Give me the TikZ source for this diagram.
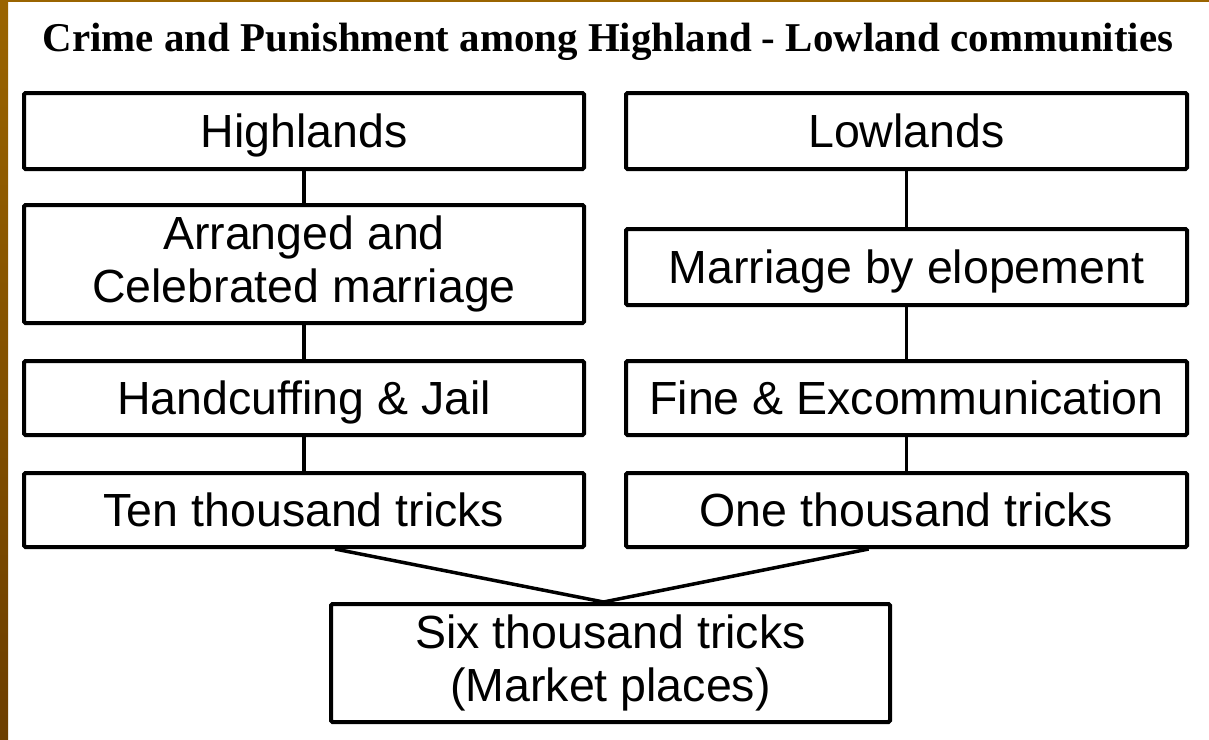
\documentclass[tikz,border=0pt]{standalone}
\usepackage{fontspec}
\setmainfont{Liberation Sans}
\newfontfamily\titlefont{Liberation Serif}
\usetikzlibrary{calc}
\definecolor{striptop}{HTML}{9A6400}
\definecolor{stripbot}{HTML}{6C3E00}
\begin{document}
\begin{tikzpicture}[x=1pt,y=-1pt,
  box/.style={draw=black,line width=4pt,rounded corners=1.5pt,inner sep=0pt,
    align=center,font=\fontsize{46.5}{53}\selectfont,fill=white},
  oneline/.style={text height=33.3pt,text depth=0pt},
  link/.style={draw=black,line width=3.5pt}]
\useasboundingbox (0,0) rectangle (1209,739);
\fill[white] (0,0) rectangle (1209,739);
\shade[top color=striptop,bottom color=stripbot] (0,0) rectangle (8,739);
\fill[striptop] (0,0) rectangle (1209,2);

\node[font=\titlefont\bfseries\fontsize{40.9}{48}\selectfont,anchor=base] (title) at (608,51)
  {Crime and Punishment among Highland - Lowland communities};

\node[box,oneline,minimum width=560pt,minimum height=76pt] (H) at (304,131) {Highlands};
\node[box,minimum width=560pt,minimum height=118pt] (A) at (304,264) {Arranged and\\Celebrated marriage};
\node[box,oneline,minimum width=560pt,minimum height=74pt] (Hc) at (304,398) {Handcuffing \& Jail};
\node[box,oneline,minimum width=560pt,minimum height=74pt] (T) at (304,510) {Ten thousand tricks};

\node[box,oneline,minimum width=561pt,minimum height=76pt] (L) at (906.5,131) {Lowlands};
\node[box,oneline,minimum width=561pt,minimum height=76pt] (M) at (906.5,267) {Marriage by elopement};
\node[box,oneline,minimum width=561pt,minimum height=74pt] (F) at (906.5,398) {Fine \& Excommunication};
\node[box,oneline,minimum width=561pt,minimum height=74pt] (O) at (906.5,510) {One thousand tricks};

\node[box,minimum width=559pt,minimum height=118pt] (S) at (610.5,663) {Six thousand tricks\\(Market places)};

\draw[link] (H) -- (A);
\draw[link] (A) -- (Hc);
\draw[link] (Hc) -- (T);
\draw[link] (L) -- (M);
\draw[link] (M) -- (F);
\draw[link] (F) -- (O);

\coordinate (tl) at ($(T.south west)!0.555!(T.south east)$);
\coordinate (or) at ($(O.south west)!0.433!(O.south east)$);
\coordinate (sm) at ([xshift=-7pt]S.north);
\draw[link] (tl) -- (sm) -- (or);
\end{tikzpicture}
\end{document}
